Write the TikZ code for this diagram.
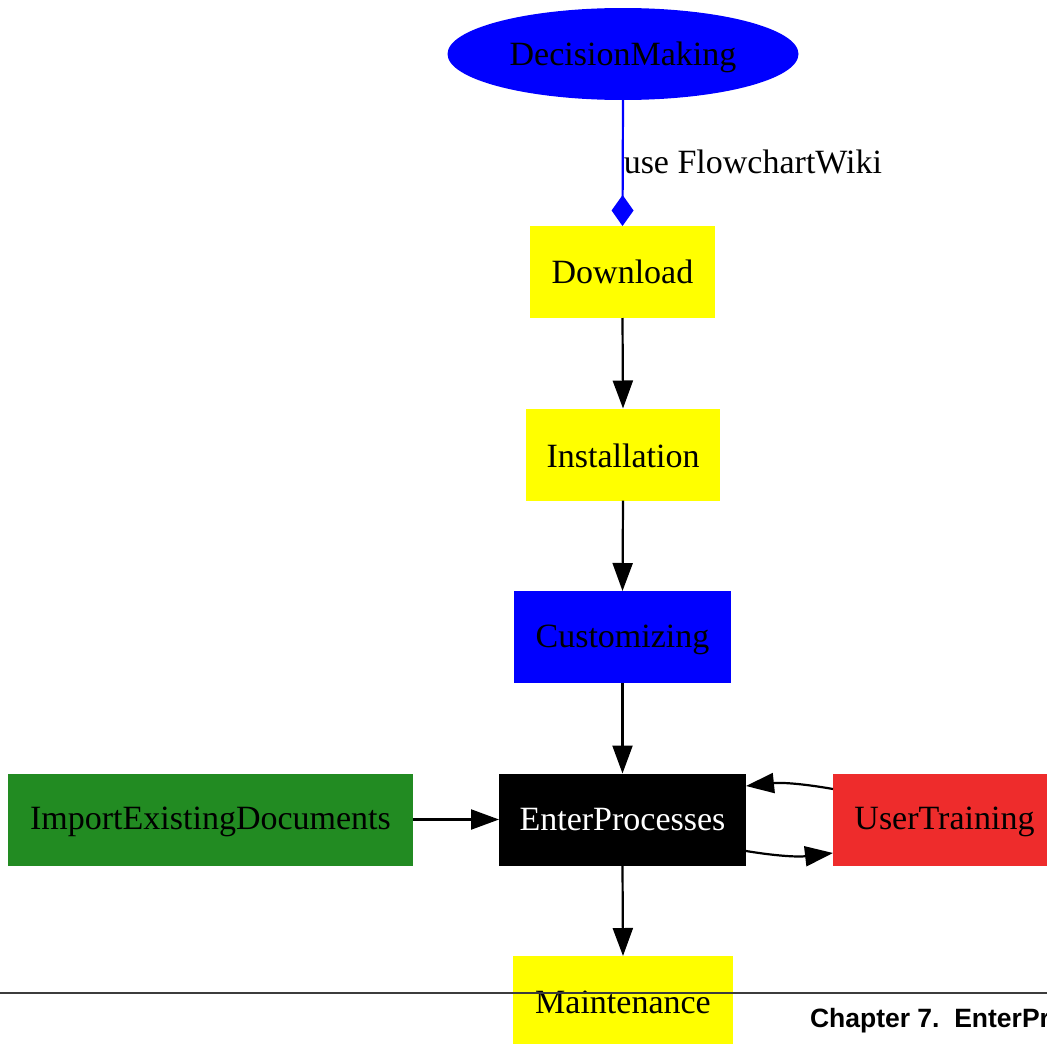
\documentclass[tikz,border=0pt]{standalone}
\usepackage{fontspec}
\setmainfont{Liberation Serif}
\newfontfamily\headfont{Liberation Sans}
\usetikzlibrary{arrows.meta,shapes.geometric}
\definecolor{gvyellow}{RGB}{255,255,0}
\definecolor{gvblue}{RGB}{0,0,255}
\definecolor{gvgreen}{RGB}{34,139,34}
\definecolor{gvred}{RGB}{238,44,44}
\definecolor{rulegray}{RGB}{60,60,60}
\newcommand{\lowertext}[2]{\raisebox{-#1}[\height][\depth]{#2}}
\tikzset{
  every node/.style={inner sep=0pt, outer sep=0pt, font=\fontsize{34}{40}\selectfont},
  procbox/.style={rectangle, minimum height=92pt},
  flow/.style={line width=2.2pt, -{Triangle[length=28pt,width=20pt]}},
  useedge/.style={line width=2.2pt, draw=gvblue, -{Diamond[length=31pt,width=22pt,fill=gvblue]}},
}
\begin{document}
\begin{tikzpicture}[x=1pt,y=-1pt]
  \useasboundingbox (0,0) rectangle (1047,1044);
  \clip (0,0) rectangle (1047,1044);

  % process nodes
  \node[ellipse, fill=gvblue, minimum width=351pt, minimum height=92pt] (dm) at (623,54) {\lowertext{3pt}{DecisionMaking}};
  \node[procbox, fill=gvyellow, minimum width=185pt] (dl) at (622.5,272) {Download};
  \node[procbox, fill=gvyellow, minimum width=194pt] (inst) at (623,454.5) {\lowertext{1pt}{Installation}};
  \node[procbox, fill=gvblue, minimum width=217pt] (cust) at (622.5,637) {\lowertext{3pt}{Customizing}};
  \node[procbox, fill=black, text=white, minimum width=247pt] (ep) at (622.5,819.5) {EnterProcesses};
  \node[procbox, fill=gvgreen, minimum width=405pt] (imp) at (210.5,819.5) {\lowertext{2pt}{ImportExistingDocuments}};
  \node[procbox, fill=gvred, minimum width=223pt] (ut) at (944.5,819.5) {\lowertext{2pt}{UserTraining}};
  \node[procbox, fill=gvyellow, minimum width=220pt] (mt) at (623,1002) {Maintenance};

  % connectors
  \draw[useedge] (dm.south) -- (dl.north)
    node[pos=0.49, anchor=west, xshift=1pt] (uselbl) {use FlowchartWiki};
  \draw[flow] (dl.south) -- (inst.north);
  \draw[flow] (inst.south) -- (cust.north);
  \draw[flow] (cust.south) -- (ep.north);
  \draw[flow] (ep.south) -- (mt.north);
  \draw[flow] (imp.east) -- (ep.west);
  \draw[flow] ([yshift=30.5pt]ut.west) to[bend right=8] ([yshift=33.5pt]ep.east);
  \draw[flow] ([yshift=-31.5pt]ep.east) to[bend right=8] ([yshift=-33.5pt]ut.west);

  % page footer
  \coordinate (ruleL) at (0,993);
  \coordinate (ruleR) at (1047,993);
  \draw[rulegray, line width=1.2pt] (ruleL) -- (ruleR);
  \node[anchor=base west, font=\headfont\bfseries\fontsize{26.5}{32}\selectfont] (chap) at (810,1027) {Chapter 7.\ \ EnterPr};
\end{tikzpicture}
\end{document}
